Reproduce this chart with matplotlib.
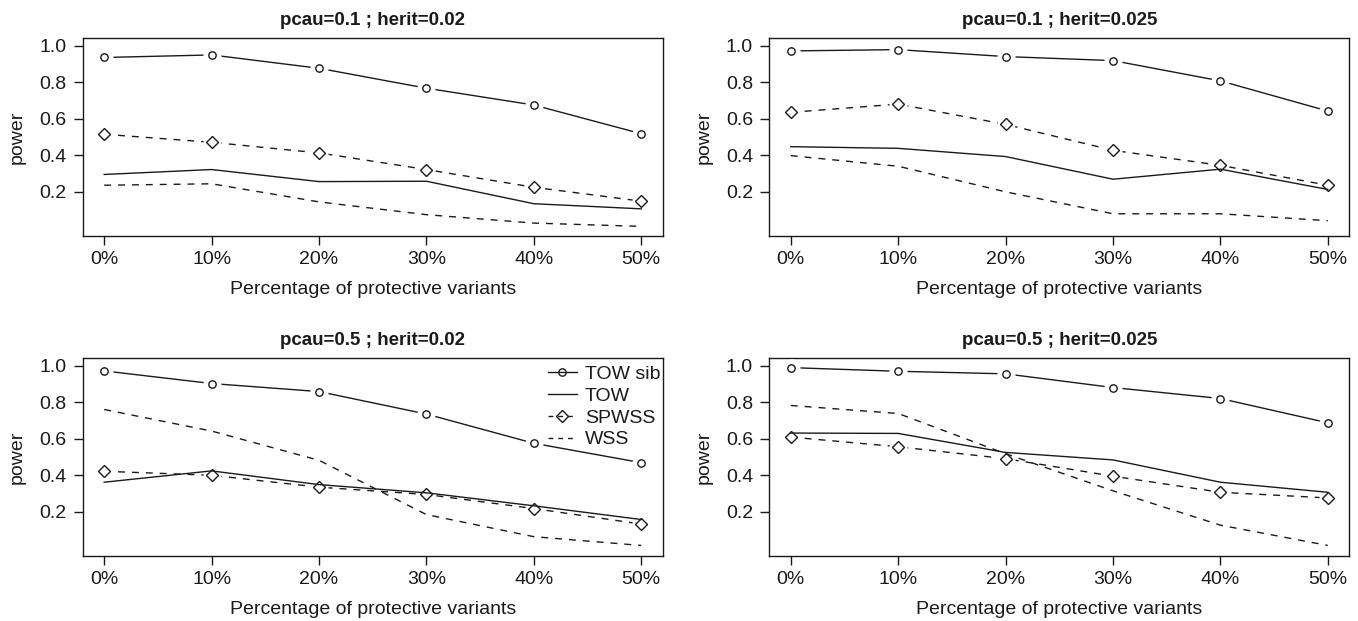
import matplotlib

matplotlib.use("Agg")
import matplotlib.pyplot as plt
from matplotlib.lines import Line2D

plt.rcParams["font.family"] = ["Liberation Sans", "DejaVu Sans"]

# x categories
pct_labels = ["0%", "10%", "20%", "30%", "40%", "50%"]

# panel titles, in order: top-left, top-right, bottom-left, bottom-right
titles = [
    "pcau=0.1 ; herit=0.02",
    "pcau=0.1 ; herit=0.025",
    "pcau=0.5 ; herit=0.02",
    "pcau=0.5 ; herit=0.025",
]

# power per method, one list per panel (same order as titles)
tow_sib = [
    [0.935, 0.949, 0.876, 0.767, 0.675, 0.518],
    [0.971, 0.978, 0.940, 0.918, 0.807, 0.642],
    [0.971, 0.902, 0.858, 0.735, 0.575, 0.469],
    [0.989, 0.969, 0.955, 0.880, 0.820, 0.687],
]
tow = [
    [0.295, 0.322, 0.256, 0.258, 0.135, 0.107],
    [0.447, 0.438, 0.393, 0.269, 0.324, 0.213],
    [0.362, 0.424, 0.349, 0.304, 0.233, 0.158],
    [0.631, 0.629, 0.525, 0.484, 0.362, 0.307],
]
spwss = [
    [0.515, 0.471, 0.413, 0.322, 0.225, 0.149],
    [0.635, 0.680, 0.569, 0.427, 0.345, 0.236],
    [0.422, 0.400, 0.335, 0.295, 0.218, 0.133],
    [0.609, 0.556, 0.491, 0.395, 0.307, 0.276],
]
wss = [
    [0.236, 0.244, 0.145, 0.075, 0.029, 0.011],
    [0.398, 0.340, 0.200, 0.080, 0.080, 0.042],
    [0.760, 0.642, 0.482, 0.185, 0.064, 0.016],
    [0.782, 0.738, 0.518, 0.315, 0.127, 0.016],
]

INK = "#1a1a1a"
LW = 1.0
DASH = (5.0, 5.0)
FS = 14
MS_O = 5.3
MS_D = 6.3

fig = plt.figure(figsize=(13.58, 6.21), dpi=100)
W, H = 1358, 621
box_w, box_h = 580, 197.4
lefts = [82.7, 769.3]
tops = [38.3, 358.3]

axes = []
for r in range(2):
    for c in range(2):
        ax = fig.add_axes([lefts[c] / W, 1 - (tops[r] + box_h) / H, box_w / W, box_h / H])
        axes.append(ax)


def line_with_gaps(ax, x, y, dashed):
    kw = dict(color=INK, lw=LW, zorder=2)
    if dashed:
        kw["dashes"] = DASH
    ax.plot(x, y, **kw)
    # white-out around each point so the line stops short, like R type="b"
    ax.plot(x, y, ls="none", marker="o", ms=12, mfc="white", mec="white", zorder=3)


for i, ax in enumerate(axes):
    x = list(range(len(pct_labels)))
    line_with_gaps(ax, x, tow_sib[i], False)
    line_with_gaps(ax, x, spwss[i], True)
    ax.plot(x, tow[i], color=INK, lw=LW, zorder=4)
    ax.plot(x, wss[i], color=INK, lw=LW, dashes=DASH, zorder=4)
    ax.plot(x, tow_sib[i], ls="none", marker="o", ms=MS_O, mfc="none", mec=INK, mew=LW, zorder=5)
    ax.plot(x, spwss[i], ls="none", marker="D", ms=MS_D, mfc="none", mec=INK, mew=LW, zorder=5)

    ax.set_xlim(-0.2, 5.2)
    ax.set_ylim(-0.04, 1.04)
    ax.set_xticks(x, pct_labels)
    ax.set_yticks([0.2, 0.4, 0.6, 0.8, 1.0], ["0.2", "0.4", "0.6", "0.8", "1.0"])
    ax.tick_params(axis="both", direction="out", length=6.2, width=LW, color=INK,
                   labelsize=FS, labelcolor=INK)
    ax.tick_params(axis="x", pad=4.5)
    ax.tick_params(axis="y", pad=5.5)
    for s in ax.spines.values():
        s.set_linewidth(LW)
        s.set_color(INK)

    ax.set_xlabel("Percentage of protective variants", fontsize=FS, color=INK, va="center")
    ax.xaxis.set_label_coords(0.5, -0.275)
    ax.set_ylabel("power", fontsize=FS, color=INK, va="center")
    ax.yaxis.set_label_coords(-0.113, 0.5)
    ax.text(0.5, 1.09, titles[i], transform=ax.transAxes, ha="center", va="center",
            fontsize=13.5, fontweight="bold", color=INK)

handles = [
    Line2D([], [], color=INK, lw=LW, marker="o", ms=MS_O, mfc="none", mec=INK, mew=LW),
    Line2D([], [], color=INK, lw=LW),
    Line2D([], [], color=INK, lw=LW, dashes=(3.5, 3.5), marker="D", ms=MS_D, mfc="none", mec=INK, mew=LW),
    Line2D([], [], color=INK, lw=LW, dashes=(3.5, 3.5)),
]
axes[2].legend(handles, ["TOW sib", "TOW", "SPWSS", "WSS"], loc="upper left",
               bbox_to_anchor=(0.802, 0.965), frameon=False, fontsize=FS,
               handlelength=1.5, handletextpad=0.4, labelspacing=0.22,
               borderpad=0, borderaxespad=0, numpoints=1, labelcolor=INK)

fig.savefig("out.png", dpi=100, facecolor="white")
